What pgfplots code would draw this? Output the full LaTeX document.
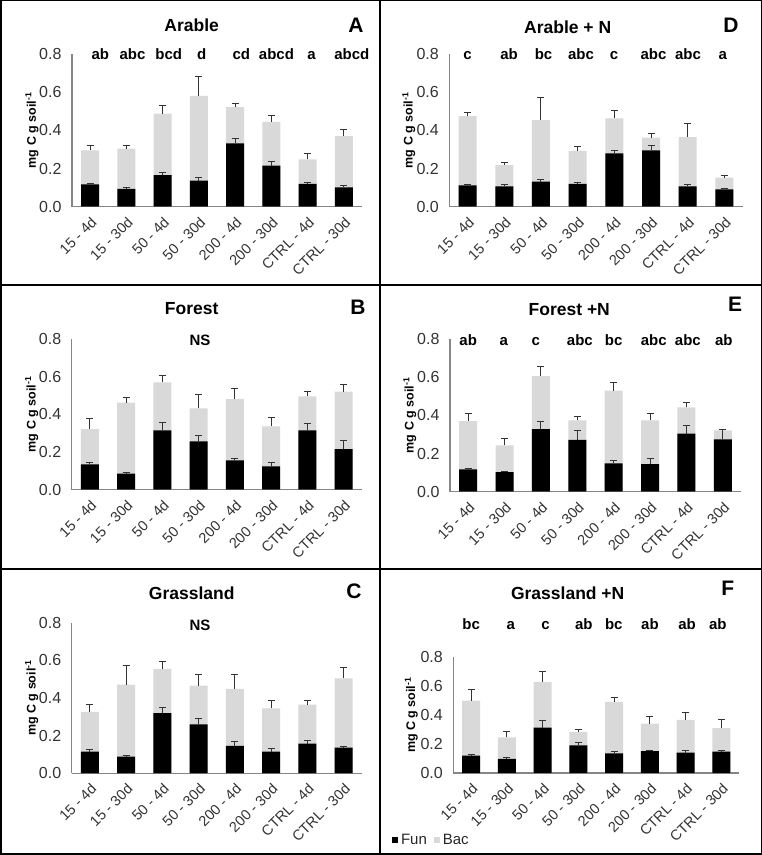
\documentclass[border=0pt]{standalone}
\usepackage{pgfplots}
\pgfplotsset{compat=1.18}
\usepackage{pgfplotstable}
\usepackage{fontspec}
\setmainfont{Liberation Sans}
\definecolor{bacgray}{RGB}{217,217,217}
\definecolor{axgray}{RGB}{134,134,134}

% x fun funE tot totE   (tot = Fun + Bac)
\pgfplotstableread{
x fun funE tot totE
0 0.117 0.006 0.295 0.023
1 0.094 0.006 0.304 0.017
2 0.166 0.012 0.487 0.044
3 0.136 0.019 0.580 0.101
4 0.332 0.024 0.521 0.019
5 0.215 0.021 0.445 0.035
6 0.119 0.009 0.248 0.031
7 0.101 0.011 0.370 0.037
}\tA
\pgfplotstableread{
x fun funE tot totE
0 0.135 0.008 0.322 0.055
1 0.085 0.005 0.462 0.028
2 0.315 0.044 0.570 0.035
3 0.257 0.033 0.432 0.076
4 0.156 0.012 0.481 0.055
5 0.124 0.018 0.336 0.048
6 0.315 0.035 0.496 0.024
7 0.216 0.044 0.520 0.041
}\tB
\pgfplotstableread{
x fun funE tot totE
0 0.115 0.009 0.326 0.040
1 0.088 0.006 0.471 0.101
2 0.319 0.028 0.554 0.039
3 0.260 0.030 0.465 0.062
4 0.145 0.023 0.448 0.076
5 0.115 0.018 0.345 0.039
6 0.158 0.014 0.365 0.023
7 0.136 0.006 0.504 0.057
}\tC
\pgfplotstableread{
x fun funE tot totE
0 0.112 0.005 0.475 0.019
1 0.107 0.010 0.218 0.016
2 0.131 0.014 0.453 0.120
3 0.120 0.006 0.293 0.021
4 0.279 0.013 0.463 0.040
5 0.295 0.023 0.362 0.019
6 0.107 0.010 0.365 0.070
7 0.091 0.005 0.152 0.010
}\tD
\pgfplotstableread{
x fun funE tot totE
0 0.117 0.003 0.370 0.042
1 0.103 0.004 0.243 0.036
2 0.328 0.041 0.606 0.049
3 0.271 0.049 0.374 0.021
4 0.148 0.014 0.529 0.044
5 0.145 0.028 0.374 0.038
6 0.304 0.044 0.442 0.024
7 0.274 0.054 0.321 0.007
}\tE
\pgfplotstableread{
x fun funE tot totE
0 0.120 0.007 0.500 0.079
1 0.097 0.011 0.247 0.037
2 0.314 0.046 0.629 0.074
3 0.191 0.023 0.284 0.020
4 0.136 0.016 0.491 0.030
5 0.152 0.005 0.341 0.049
6 0.141 0.018 0.367 0.053
7 0.148 0.011 0.311 0.056
}\tF

\pgfplotsset{panel/.style={
  scale only axis, anchor=south west, clip=false,
  ybar, bar width=18pt, bar shift=0pt,
  ymin=0, ymax=0.8, xmin=-0.5, xmax=7.5,
  ytick={0,0.2,0.4,0.6,0.8},
  xtick={0,...,7},
  xticklabels={15 - 4d,15 - 30d,50 - 4d,50 - 30d,200 - 4d,200 - 30d,CTRL - 4d,CTRL - 30d},
  axis x line*=bottom, axis y line*=left,
  axis line style={draw=axgray, line width=1.3pt},
  major tick style={draw=none},
  /pgf/number format/assume math mode=true,
  /pgf/number format/fixed,
  /pgf/number format/fixed zerofill,
  /pgf/number format/precision=1,
  yticklabel style={font=\fontsize{16}{16}\selectfont, text=black!80, xshift=-7pt},
  xticklabel style={rotate=45, anchor=north east, font=\fontsize{14.5}{14.5}\selectfont, text=black!80},
  ylabel={\textbf{mg C g soil\textsuperscript{-1}}},
  every axis y label/.style={at={(axis description cs:-0.138,0.5)}, rotate=90, anchor=center, font=\fontsize{12.5}{12.5}\selectfont},
  error bars/y dir=plus, error bars/y explicit,
  error bars/error bar style={line width=1pt, black!80},
  error bars/error mark options={rotate=90, mark size=3.5pt, line width=1pt, black!80},
}}
\tikzset{sig/.style={anchor=base, font=\bfseries\fontsize{15}{15}\selectfont},
  ttl/.style={font=\bfseries\fontsize{17.5}{17.5}\selectfont},
  plet/.style={font=\bfseries\fontsize{21}{21}\selectfont}}

\begin{document}
\begin{tikzpicture}[x=1pt,y=1pt]
\useasboundingbox (0,0) rectangle (762,855);
\draw[line width=1.5pt] (0.75,0.75) rectangle (761.25,854.25);
\draw[line width=1.5pt] (380,0) -- (380,855);
\draw[line width=1.5pt] (0,570) -- (762,570);
\draw[line width=1.5pt] (0,286) -- (762,286);

% ---------- A ----------
\begin{axis}[panel, at={(72pt,648.3pt)}, width=290pt, height=152.7pt]
\addplot[fill=bacgray, draw=none] table[x=x, y=tot, y error=totE]{\tA};
\addplot[fill=black, draw=none] table[x=x, y=fun, y error=funE]{\tA};
\node[sig] at (axis cs:0.28,0.772) {ab};
\node[sig] at (axis cs:1.17,0.772) {abc};
\node[sig] at (axis cs:2.17,0.772) {bcd};
\node[sig] at (axis cs:3.08,0.772) {d};
\node[sig] at (axis cs:4.17,0.772) {cd};
\node[sig] at (axis cs:5.14,0.772) {abcd};
\node[sig] at (axis cs:6.11,0.772) {a};
\node[sig] at (axis cs:7.22,0.772) {abcd};
\end{axis}
\node[ttl] at (191.7,830) {Arable};
\node[plet] at (356,830) {A};

% ---------- D ----------
\begin{axis}[panel, at={(449.3pt,648.3pt)}, width=293.4pt, height=152.7pt]
\addplot[fill=bacgray, draw=none] table[x=x, y=tot, y error=totE]{\tD};
\addplot[fill=black, draw=none] table[x=x, y=fun, y error=funE]{\tD};
\node[sig] at (axis cs:0.0,0.772) {c};
\node[sig] at (axis cs:1.13,0.772) {ab};
\node[sig] at (axis cs:2.07,0.772) {bc};
\node[sig] at (axis cs:3.09,0.772) {abc};
\node[sig] at (axis cs:3.99,0.772) {c};
\node[sig] at (axis cs:5.07,0.772) {abc};
\node[sig] at (axis cs:6.01,0.772) {abc};
\node[sig] at (axis cs:6.96,0.772) {a};
\end{axis}
\node[ttl] at (567.7,828) {Arable + N};
\node[plet] at (731,830) {D};

% ---------- B ----------
\begin{axis}[panel, at={(71.7pt,365.3pt)}, width=290pt, height=150.7pt]
\addplot[fill=bacgray, draw=none] table[x=x, y=tot, y error=totE]{\tB};
\addplot[fill=black, draw=none] table[x=x, y=fun, y error=funE]{\tB};
\node[sig] at (axis cs:3.04,0.768) {NS};
\end{axis}
\node[ttl] at (191.7,546) {Forest};
\node[plet] at (358,548) {B};

% ---------- E ----------
\begin{axis}[panel, at={(450pt,363.3pt)}, width=291pt, height=152.7pt]
\addplot[fill=bacgray, draw=none] table[x=x, y=tot, y error=totE]{\tE};
\addplot[fill=black, draw=none] table[x=x, y=fun, y error=funE]{\tE};
\node[sig] at (axis cs:0.0,0.768) {ab};
\node[sig] at (axis cs:0.98,0.768) {a};
\node[sig] at (axis cs:1.86,0.768) {c};
\node[sig] at (axis cs:3.07,0.768) {abc};
\node[sig] at (axis cs:4.0,0.768) {bc};
\node[sig] at (axis cs:5.1,0.768) {abc};
\node[sig] at (axis cs:6.04,0.768) {abc};
\node[sig] at (axis cs:7.03,0.768) {ab};
\end{axis}
\node[ttl] at (569.3,545) {Forest +N};
\node[plet] at (735,551) {E};

% ---------- C ----------
\begin{axis}[panel, at={(71.7pt,81.7pt)}, width=290pt, height=150.7pt]
\addplot[fill=bacgray, draw=none] table[x=x, y=tot, y error=totE]{\tC};
\addplot[fill=black, draw=none] table[x=x, y=fun, y error=funE]{\tC};
\node[sig] at (axis cs:3.04,0.76) {NS};
\end{axis}
\node[ttl] at (191.7,262) {Grassland};
\node[plet] at (354,264) {C};

% ---------- F ----------
\begin{axis}[panel, at={(453.3pt,82pt)}, width=286pt, height=115.7pt,
  every axis y label/.style={at={(axis description cs:-0.147,0.5)}, rotate=90, anchor=center, font=\fontsize{12.5}{12.5}\selectfont},
  reverse legend, legend columns=2,
  legend style={at={(axis description cs:-0.215,-0.58)}, anchor=west, draw=none, fill=none,
    font=\fontsize{15}{15}\selectfont, inner sep=0pt,
    nodes={inner sep=1pt, text=black!85},
    /tikz/every even column/.append style={column sep=6pt}},
  legend image code/.code={\fill[#1] (0pt,-3pt) rectangle (6pt,3pt); \path (8pt,0pt);}]
\addplot[fill=bacgray, draw=none] table[x=x, y=tot, y error=totE]{\tF};
\addlegendentry{Bac}
\addplot[fill=black, draw=none] table[x=x, y=fun, y error=funE]{\tF};
\addlegendentry{Fun}
\node[sig] at (axis cs:0.0,0.994) {bc};
\node[sig] at (axis cs:1.11,0.994) {a};
\node[sig] at (axis cs:2.08,0.994) {c};
\node[sig] at (axis cs:3.15,0.994) {ab};
\node[sig] at (axis cs:3.99,0.994) {bc};
\node[sig] at (axis cs:5.0,0.994) {ab};
\node[sig] at (axis cs:6.04,0.994) {ab};
\node[sig] at (axis cs:6.9,0.994) {ab};
\end{axis}
\node[ttl] at (567.7,262) {Grassland +N};
\node[plet] at (727.7,267) {F};
\end{tikzpicture}
\end{document}
